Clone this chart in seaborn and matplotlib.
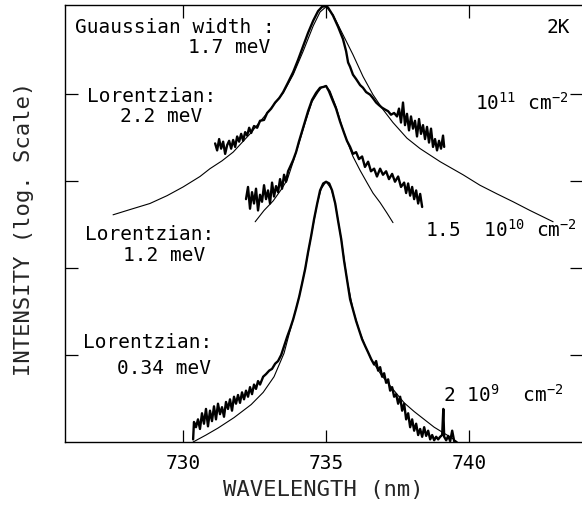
import numpy as np
import matplotlib
matplotlib.use("Agg")
import matplotlib.pyplot as plt
from matplotlib.ticker import NullLocator
import seaborn as sns

# spectra: wavelength (nm) and log10 intensity
# 10^11 cm^-2 spectrum (thick) and its fit (thin)
top_wl = [731.12, 731.19, 731.26, 731.33, 731.40, 731.47, 731.54, 731.61, 731.68, 731.75,
          731.82, 731.89, 731.96, 732.03, 732.10, 732.17, 732.24, 732.31, 732.38, 732.48,
          732.59, 732.69, 732.83, 732.94, 733.08, 733.22, 733.36, 733.50, 733.67, 733.85,
          734.02, 734.20, 734.37, 734.55, 734.72, 734.86, 735.00, 735.07, 735.24, 735.42,
          735.59, 735.70, 735.77, 735.84, 735.94, 736.05, 736.19, 736.29, 736.40, 736.54,
          736.64, 736.75, 736.85, 736.96, 737.06, 737.17, 737.27, 737.38, 737.48, 737.55,
          737.62, 737.69, 737.76, 737.83, 737.90, 737.97, 738.04, 738.11, 738.18, 738.25,
          738.32, 738.39, 738.46, 738.53, 738.60, 738.67, 738.74, 738.81, 738.88, 738.95,
          739.02, 739.09, 739.13]
top_log = [3.43, 3.35, 3.48, 3.37, 3.45, 3.31, 3.41, 3.46, 3.37, 3.47,
           3.39, 3.51, 3.45, 3.54, 3.46, 3.56, 3.52, 3.61, 3.55, 3.63,
           3.61, 3.69, 3.70, 3.78, 3.83, 3.90, 3.95, 4.02, 4.13, 4.25,
           4.39, 4.55, 4.70, 4.84, 4.95, 5.00, 5.01, 4.99, 4.90, 4.77,
           4.63, 4.49, 4.36, 4.31, 4.22, 4.17, 4.10, 4.07, 4.02, 3.99,
           3.95, 3.90, 3.87, 3.84, 3.82, 3.80, 3.76, 3.78, 3.74, 3.83,
           3.67, 3.90, 3.64, 3.77, 3.58, 3.74, 3.60, 3.69, 3.51, 3.71,
           3.54, 3.64, 3.48, 3.62, 3.44, 3.60, 3.39, 3.48, 3.35, 3.46,
           3.37, 3.52, 3.39]
top_fit_wl = [727.55, 728.14, 728.84, 729.44, 730.00, 730.59, 730.94, 731.36, 731.75, 732.34,
              732.94, 733.50, 733.85, 734.20, 734.55, 734.79, 735.00, 735.24, 735.59, 735.94,
              736.29, 736.64, 736.99, 737.34, 737.83, 738.29, 738.99, 739.79, 740.38, 740.98,
              741.54, 742.13, 742.94]
top_fit_log = [2.61, 2.67, 2.74, 2.83, 2.93, 3.05, 3.14, 3.23, 3.33, 3.54,
               3.78, 4.01, 4.22, 4.49, 4.78, 4.94, 5.00, 4.91, 4.68, 4.45,
               4.20, 3.99, 3.82, 3.67, 3.49, 3.37, 3.22, 3.07, 2.95, 2.85,
               2.76, 2.66, 2.53]

# 1.5 10^10 cm^-2
mid_wl = [732.20, 732.27, 732.34, 732.41, 732.48, 732.55, 732.62, 732.69, 732.76, 732.83,
          732.90, 732.97, 733.04, 733.11, 733.18, 733.25, 733.32, 733.39, 733.46, 733.53,
          733.60, 733.67, 733.74, 733.85, 733.95, 734.05, 734.16, 734.27, 734.37, 734.51,
          734.65, 734.79, 734.92, 735.00, 735.10, 735.21, 735.35, 735.49, 735.63, 735.73,
          735.84, 735.94, 736.05, 736.15, 736.26, 736.36, 736.47, 736.57, 736.68, 736.78,
          736.89, 736.99, 737.10, 737.20, 737.31, 737.41, 737.52, 737.62, 737.73, 737.80,
          737.87, 737.94, 738.01, 738.08, 738.15, 738.22, 738.29, 738.36]
mid_log = [2.79, 2.93, 2.68, 2.87, 2.74, 2.91, 2.66, 2.84, 2.76, 2.95,
           2.79, 2.89, 2.74, 2.98, 2.82, 2.94, 2.87, 3.02, 2.91, 3.07,
           2.99, 3.11, 3.16, 3.24, 3.33, 3.45, 3.57, 3.69, 3.80, 3.93,
           4.01, 4.07, 4.08, 4.09, 4.03, 3.94, 3.83, 3.68, 3.55, 3.46,
           3.39, 3.31, 3.33, 3.25, 3.28, 3.16, 3.22, 3.11, 3.14, 3.05,
           3.14, 3.07, 3.11, 3.02, 3.08, 2.99, 3.05, 2.93, 2.98, 2.86,
           2.97, 2.83, 2.93, 2.79, 2.89, 2.74, 2.85, 2.70]
mid_fit_wl = [732.52, 732.83, 733.15, 733.43, 733.64, 733.85, 734.05, 734.27, 734.51, 734.72,
              734.86, 735.00, 735.14, 735.35, 735.56, 735.73, 735.94, 736.19, 736.43, 736.64,
              736.89, 737.13, 737.34]
mid_fit_log = [2.53, 2.66, 2.77, 2.90, 3.01, 3.22, 3.43, 3.67, 3.91, 4.02,
               4.08, 4.09, 4.03, 3.85, 3.62, 3.46, 3.28, 3.12, 2.98, 2.86,
               2.75, 2.63, 2.52]

# 2 10^9 cm^-2
low_wl = [730.35, 730.38, 730.45, 730.52, 730.59, 730.66, 730.73, 730.80, 730.87, 730.94,
          731.01, 731.08, 731.15, 731.22, 731.29, 731.36, 731.43, 731.50, 731.57, 731.64,
          731.71, 731.78, 731.85, 731.92, 731.99, 732.06, 732.13, 732.20, 732.27, 732.34,
          732.41, 732.48, 732.55, 732.62, 732.69, 732.80, 732.90, 733.01, 733.11, 733.22,
          733.32, 733.43, 733.53, 733.64, 733.74, 733.85, 733.95, 734.06, 734.16, 734.27,
          734.37, 734.48, 734.58, 734.69, 734.79, 734.90, 735.00, 735.11, 735.21, 735.32,
          735.42, 735.53, 735.63, 735.74, 735.84, 735.95, 736.05, 736.16, 736.26, 736.37,
          736.47, 736.58, 736.68, 736.75, 736.82, 736.89, 736.96, 737.03, 737.10, 737.17,
          737.24, 737.31, 737.38, 737.45, 737.52, 737.59, 737.66, 737.73, 737.80, 737.87,
          737.94, 738.01, 738.08, 738.15, 738.22, 738.29, 738.36, 738.43, 738.50, 738.57,
          738.64, 738.71, 738.78, 738.85, 738.92, 738.99, 739.06, 739.10, 739.13, 739.20,
          739.27, 739.34, 739.41, 739.48, 739.55]
low_log = [0.03, 0.23, 0.17, 0.26, 0.15, 0.33, 0.21, 0.38, 0.18, 0.36,
           0.24, 0.41, 0.26, 0.44, 0.32, 0.40, 0.29, 0.46, 0.38, 0.49,
           0.36, 0.52, 0.44, 0.54, 0.45, 0.57, 0.49, 0.59, 0.52, 0.63,
           0.55, 0.66, 0.61, 0.70, 0.66, 0.75, 0.78, 0.82, 0.84, 0.90,
           0.93, 1.00, 1.10, 1.21, 1.30, 1.41, 1.53, 1.67, 1.82, 1.99,
           2.18, 2.37, 2.56, 2.74, 2.89, 2.97, 2.99, 2.97, 2.89, 2.74,
           2.54, 2.33, 2.08, 1.85, 1.64, 1.51, 1.39, 1.28, 1.18, 1.10,
           1.03, 0.95, 0.89, 0.93, 0.82, 0.86, 0.75, 0.79, 0.68, 0.72,
           0.59, 0.63, 0.52, 0.55, 0.44, 0.52, 0.36, 0.44, 0.26, 0.33,
           0.17, 0.26, 0.13, 0.21, 0.08, 0.15, 0.06, 0.17, 0.07, 0.13,
           0.03, 0.08, 0.02, 0.06, 0.03, 0.06, 0.08, 0.38, 0.06, 0.02,
           0.07, 0.01, 0.13, 0.01, 0.00]
low_fit_wl = [730.35, 730.80, 731.22, 731.78, 732.38, 732.80, 733.18, 733.53, 733.74, 733.85,
              734.06, 734.27, 734.48, 734.69, 734.83, 735.00, 735.18, 735.32, 735.53, 735.74,
              735.95, 736.16, 736.37, 736.58, 736.93, 737.38, 737.73, 738.08, 738.43, 738.78,
              739.13, 739.38, 739.59]
low_fit_log = [0.00, 0.08, 0.16, 0.28, 0.43, 0.57, 0.75, 1.02, 1.28, 1.41,
               1.67, 1.99, 2.37, 2.74, 2.91, 2.99, 2.91, 2.74, 2.33, 1.85,
               1.51, 1.28, 1.10, 0.95, 0.77, 0.59, 0.45, 0.35, 0.26, 0.17,
               0.10, 0.05, 0.00]

wl_ticks = [730, 735, 740]
decade_ticks = [10, 100, 1000, 10000]

sns.set_style("ticks")
plt.rcParams["font.family"] = ["DejaVu Sans Mono"]
plt.rcParams["mathtext.fontset"] = "custom"
plt.rcParams["mathtext.rm"] = "DejaVu Sans Mono"
plt.rcParams["mathtext.default"] = "rm"

fig = plt.figure(figsize=(5.82, 5.06), dpi=100)
ax = fig.add_axes([0.1117, 0.1245, 0.8883, 0.8636])

# thin fits first, measured spectra on top
for wl, lg in [(top_fit_wl, top_fit_log), (mid_fit_wl, mid_fit_log), (low_fit_wl, low_fit_log)]:
    sns.lineplot(x=wl, y=np.power(10.0, lg), ax=ax, color="black", linewidth=0.8,
                 estimator=None, sort=False, legend=False)
for wl, lg in [(top_wl, top_log), (mid_wl, mid_log), (low_wl, low_log)]:
    sns.lineplot(x=wl, y=np.power(10.0, lg), ax=ax, color="black", linewidth=1.7,
                 estimator=None, sort=False, legend=False)

ax.set_yscale("log")
ax.set_ylim(1, 10 ** 5.02)
ax.set_xlim(725.87, 743.95)
ax.set_xticks(wl_ticks)
ax.set_yticks(decade_ticks)
ax.yaxis.set_minor_locator(NullLocator())
ax.set_yticklabels([])
ax.tick_params(axis="both", which="both", direction="in", length=9, width=0.9,
               top=True, right=True, labelsize=14, pad=8, colors="black")
ax.spines["right"].set_visible(False)
for s in ["left", "top", "bottom"]:
    ax.spines[s].set_linewidth(1.0)
    ax.spines[s].set_color("black")

ax.set_xlabel("WAVELENGTH (nm)", fontsize=16)
ax.xaxis.set_label_coords(0.5, -0.085)
ax.set_ylabel("INTENSITY (log. Scale)", fontsize=16)
ax.yaxis.set_label_coords(-0.06, 0.49)

txt = dict(fontsize=14, color="black")
ax.text(726.22, 10 ** 4.77, "Guaussian width :", va="center", **txt)
ax.text(730.17, 10 ** 4.54, "1.7 meV", va="center", **txt)
ax.text(726.64, 10 ** 3.98, "Lorentzian:", va="center", **txt)
ax.text(727.79, 10 ** 3.75, "2.2 meV", va="center", **txt)
ax.text(726.57, 10 ** 2.39, "Lorentzian:", va="center", **txt)
ax.text(727.90, 10 ** 2.15, "1.2 meV", va="center", **txt)
ax.text(726.50, 10 ** 1.15, "Lorentzian:", va="center", **txt)
ax.text(727.69, 10 ** 0.86, "0.34 meV", va="center", **txt)
ax.text(742.70, 10 ** 4.77, "2K", va="center", **txt)
ax.text(740.22, 10 ** 3.83, "10$^{11}$ cm$^{-2}$", va="baseline", **txt)
ax.text(738.47, 10 ** 2.37, "1.5  10$^{10}$ cm$^{-2}$", va="baseline", **txt)
ax.text(739.10, 10 ** 0.47, "2 10$^{9}$  cm$^{-2}$", va="baseline", **txt)

fig.savefig("out.png", dpi=100)
